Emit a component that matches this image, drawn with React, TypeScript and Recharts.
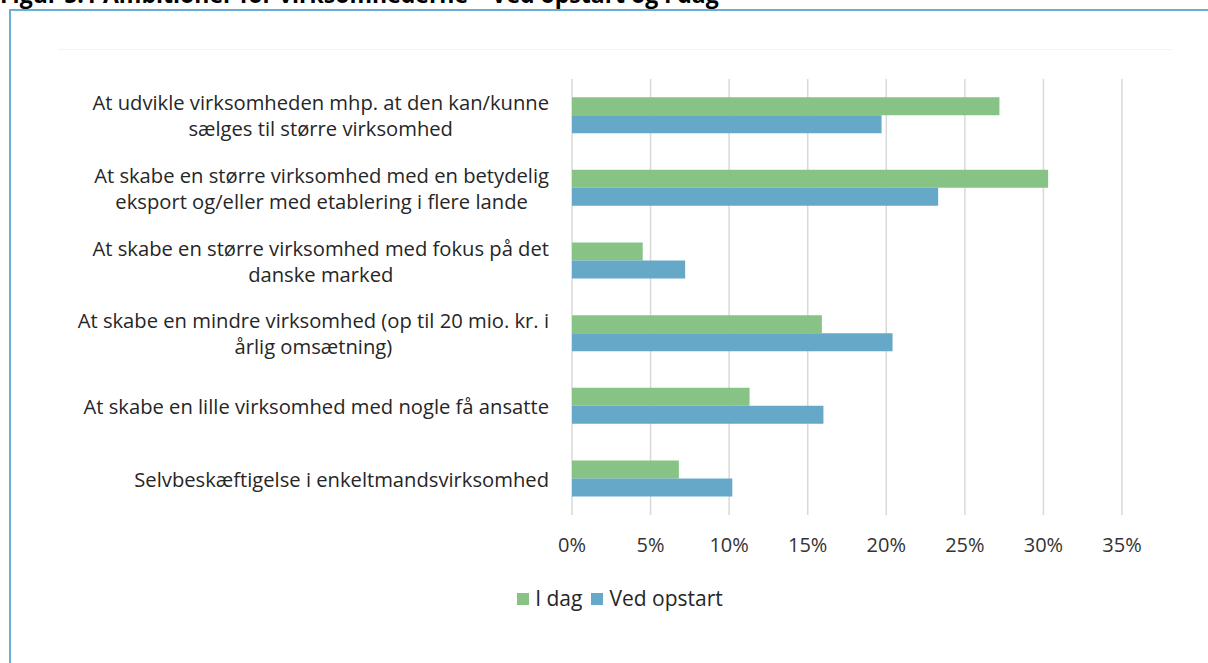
import React from "react";
import { BarChart, Bar, XAxis, YAxis, CartesianGrid, Legend } from "recharts";

// Ambitions for the companies – at start-up and today (share of respondents, %)
const categories: string[] = [
  "At udvikle virksomheden mhp. at den kan/kunne\nsælges til større virksomhed",
  "At skabe en større virksomhed med en betydelig\neksport og/eller med etablering i flere lande",
  "At skabe en større virksomhed med fokus på det\ndanske marked",
  "At skabe en mindre virksomhed (op til 20 mio. kr. i\nårlig omsætning)",
  "At skabe en lille virksomhed med nogle få ansatte",
  "Selvbeskæftigelse i enkeltmandsvirksomhed",
];
const iDag: number[] = [27.2, 30.3, 4.5, 15.9, 11.3, 6.8];
const vedOpstart: number[] = [19.7, 23.3, 7.2, 20.4, 16.0, 10.2];
const xTicks: number[] = [0, 5, 10, 15, 20, 25, 30, 35];

const title = "Figur 5.1 Ambitioner for virksomhederne – Ved opstart og i dag";

const data = categories.map((name, i) => ({
  name,
  iDag: iDag[i],
  vedOpstart: vedOpstart[i],
}));

const FONT = "'Open Sans', 'Noto Sans', sans-serif";
const GREEN = "#86C384";
const BLUE = "#65A8C8";

const CategoryTick = (props: any) => {
  const { x, y, payload } = props;
  const lines: string[] = String(payload.value).split("\n");
  return (
    <foreignObject x={0} y={y - 30} width={x} height={60}>
      <div
        style={{
          width: "100%",
          height: "100%",
          display: "flex",
          justifyContent: "flex-end",
          alignItems: "center",
        }}
      >
        <div
          style={{
            textAlign: "center",
            fontFamily: FONT,
            fontSize: 20.2,
            lineHeight: "26px",
            color: "#262626",
            whiteSpace: "nowrap",
          }}
        >
          {lines.map((l, i) => (
            <div key={i}>{l}</div>
          ))}
        </div>
      </div>
    </foreignObject>
  );
};

// Legend row: square swatch followed by the series name
const LegendContent = (props: any) => {
  const items: any[] = props.payload || [];
  return (
    <div
      style={{
        display: "flex",
        justifyContent: "center",
        alignItems: "center",
        fontFamily: FONT,
        fontSize: 21,
        color: "#262626",
        lineHeight: "28px",
      }}
    >
      {items.map((it, i) => (
        <div
          key={i}
          style={{ display: "flex", alignItems: "center", marginRight: i < items.length - 1 ? 9 : 0 }}
        >
          <span
            style={{
              display: "inline-block",
              width: 12,
              height: 12,
              background: it.color,
              marginRight: 6,
              marginTop: 1,
            }}
          />
          <span>{it.value}</span>
        </div>
      ))}
    </div>
  );
};

export default function App() {
  return (
    <div
      style={{
        position: "absolute",
        left: 0,
        top: 0,
        width: 1208,
        height: 663,
        overflow: "hidden",
        background: "#ffffff",
      }}
    >
      <div
        style={{
          position: "absolute",
          left: 0,
          top: -17,
          fontFamily: FONT,
          fontWeight: 700,
          fontSize: 23,
          lineHeight: "23px",
          color: "#000",
          whiteSpace: "nowrap",
        }}
      >
        {title}
      </div>
      <div
        style={{
          position: "absolute",
          left: 9,
          top: 9,
          width: 1300,
          height: 700,
          border: "2px solid #6aaed6",
        }}
      />
      <div
        style={{
          position: "absolute",
          left: 58,
          top: 49,
          width: 1114,
          height: 1,
          background: "#f3f3f3",
        }}
      />
      <div style={{ position: "absolute", left: 0, top: 0 }}>
        <BarChart
          width={1208}
          height={663}
          data={data}
          layout="vertical"
          margin={{ top: 79, right: 86, bottom: 118, left: 0 }}
          barCategoryGap="25%"
          barGap={0}
        >
          <CartesianGrid horizontal={false} stroke="#d9d9d9" strokeWidth={1.5} />
          <XAxis
            type="number"
            domain={[0, 35]}
            ticks={xTicks}
            tickFormatter={(v: number) => `${v}%`}
            axisLine={false}
            tickLine={false}
            tickSize={0}
            tickMargin={23}
            height={30}
            tick={{ fill: "#333333", fontFamily: FONT, fontSize: 20 }}
          />
          <YAxis
            type="category"
            dataKey="name"
            width={572}
            axisLine={false}
            tickLine={false}
            tickSize={0}
            tickMargin={23}
            interval={0}
            tick={<CategoryTick />}
          />
          <Legend
            layout="horizontal"
            verticalAlign="middle"
            align="center"
            content={<LegendContent />}
            wrapperStyle={{ top: 584, left: 420, width: 400, height: 28 }}
          />
          <Bar dataKey="iDag" name="I dag" fill={GREEN} isAnimationActive={false} />
          <Bar dataKey="vedOpstart" name="Ved opstart" fill={BLUE} isAnimationActive={false} />
        </BarChart>
      </div>
    </div>
  );
}
